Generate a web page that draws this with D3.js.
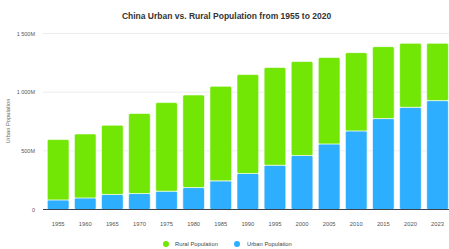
<!DOCTYPE html>
<html>
<head>
<meta charset="utf-8">
<script src="https://cdn.jsdelivr.net/npm/d3@7"></script>
<style>
  html, body { margin: 0; padding: 0; background: #fff; }
  svg { display: block; font-family: "Liberation Sans", Arial, sans-serif; }
</style>
</head>
<body>
<div id="chart"></div>
<script>
// Data (millions)
const years = ['1955', '1960', '1965', '1970', '1975', '1980', '1985', '1990',
  '1995', '2000', '2005', '2010', '2015', '2020', '2023'];
const urban = [82, 99, 128, 136, 156, 187, 244, 307, 377, 460, 559, 670, 775, 871, 928];
const rural = [514, 545, 590, 682, 755, 789, 806, 843, 833, 801, 736, 667, 613, 545, 488];
const yTicks = [0, 500, 1000, 1500];
const seriesNames = ['Urban Population', 'Rural Population'];

const width = 449;
const height = 249;
const colors = { 'Urban Population': '#2eaefe', 'Rural Population': '#72e605' };

const svg = d3.select('#chart')
  .append('svg')
  .attr('width', width)
  .attr('height', height);

// Scales
const x = d3.scaleBand()
  .domain(years)
  .range([44.6, 451.1])
  .paddingInner(0.2)
  .paddingOuter(0.1);

const y = d3.scaleLinear().domain([0, 1500]).range([209.5, 33.5]);

// Title
svg.append('text')
  .attr('x', 226.5)
  .attr('y', 18.5)
  .attr('text-anchor', 'middle')
  .style('font-size', '8.5px')
  .style('font-weight', 'bold')
  .style('fill', '#333')
  .text('China Urban vs. Rural Population from 1955 to 2020');

// Gridlines
svg.append('g')
  .selectAll('line')
  .data(yTicks.filter((d) => d > 0))
  .enter()
  .append('line')
  .attr('x1', 43)
  .attr('x2', width)
  .attr('y1', (d) => y(d))
  .attr('y2', (d) => y(d))
  .attr('stroke', '#ececec')
  .attr('stroke-width', 1);

// Y tick labels
const fmt = (d) => (d === 0 ? '0' : d3.format(',')(d).replace(',', ' ') + 'M');
svg.append('g')
  .selectAll('text')
  .data(yTicks)
  .enter()
  .append('text')
  .attr('x', 35)
  .attr('y', (d) => y(d) + 2)
  .attr('text-anchor', 'end')
  .style('font-size', '5.5px')
  .style('fill', '#555')
  .text(fmt);

// Y axis title
svg.append('text')
  .attr('transform', 'translate(10,121) rotate(-90)')
  .attr('text-anchor', 'middle')
  .style('font-size', '5.8px')
  .style('fill', '#666')
  .text('Urban Population');

// Stacked bars
const table = years.map((yr, i) => ({
  year: yr,
  'Urban Population': urban[i],
  'Rural Population': rural[i],
}));
const stacked = d3.stack().keys(seriesNames)(table);

svg.append('g')
  .selectAll('g')
  .data(stacked)
  .enter()
  .append('g')
  .attr('fill', (s) => colors[s.key])
  .selectAll('rect')
  .data((s) => s)
  .enter()
  .append('rect')
  .attr('x', (d) => x(d.data.year))
  .attr('width', x.bandwidth())
  .attr('y', (d) => y(d[1]))
  .attr('height', (d) => y(d[0]) - y(d[1]))
  .attr('rx', 1.5)
  .attr('stroke', '#fff')
  .attr('stroke-width', 0.6);

// Baseline
svg.append('line')
  .attr('x1', 43)
  .attr('x2', width)
  .attr('y1', y(0))
  .attr('y2', y(0))
  .attr('stroke', '#3b4250')
  .attr('stroke-width', 1);

// X labels
svg.append('g')
  .selectAll('text')
  .data(years)
  .enter()
  .append('text')
  .attr('x', (d) => x(d) + x.bandwidth() / 2)
  .attr('y', 226)
  .attr('text-anchor', 'middle')
  .style('font-size', '5.8px')
  .style('fill', '#555')
  .text((d) => d);

// Legend
const legendItems = [
  { name: 'Rural Population', cx: 166, tx: 175 },
  { name: 'Urban Population', cx: 237, tx: 247 },
];
const lg = svg.append('g')
  .selectAll('g')
  .data(legendItems)
  .enter()
  .append('g');
lg.append('circle')
  .attr('cx', (d) => d.cx)
  .attr('cy', 244)
  .attr('r', 3)
  .attr('fill', (d) => colors[d.name]);
lg.append('text')
  .attr('x', (d) => d.tx)
  .attr('y', 246)
  .style('font-size', '5.8px')
  .style('fill', '#444')
  .text((d) => d.name);
</script>
</body>
</html>
